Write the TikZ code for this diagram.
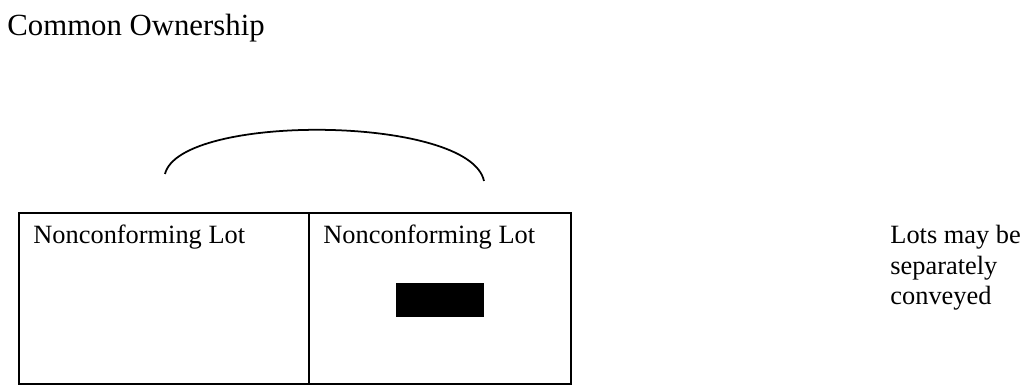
\documentclass[tikz,border=0pt]{standalone}
\usepackage{fontspec}
\setmainfont{Liberation Serif}
\usepackage{tikz}

\tikzset{
  lotline/.style={line width=1.1pt},
  lottext/.style={anchor=base west,inner sep=0pt,font=\fontsize{12}{13.8}\selectfont},
}

\begin{document}
\begin{tikzpicture}[x=0.455pt,y=0.455pt,yscale=-1]
\useasboundingbox (0,0) rectangle (1029,392);

% Text Node
\node (title) [anchor=base west,inner sep=0pt,font=\fontsize{14}{16}\selectfont] at (7,36) {Common Ownership};

%Shape: Rectangle [left lot]
\draw [lotline] (19,213) rectangle (309,384);
%Shape: Rectangle [right lot]
\draw [lotline] (309,213) rectangle (571,384);
%Shape: Rectangle [filled]
\fill (396,283) rectangle (484,317);

% Text Node
\node (lotA) [lottext] at (33,244) {Nonconforming Lot};
% Text Node
\node (lotB) [lottext] at (323,244) {Nonconforming Lot};
% Text Node
\node (note) [anchor=north west,inner sep=0pt,align=left,font=\fontsize{12}{13.8}\selectfont] at (890,225) {Lots may be\\separately\\conveyed};

%Curve Lines [common ownership]
\coordinate (arcA) at (165,174);
\coordinate (arcB) at (484,181);
\draw [line width=0.8pt] (arcA) .. controls (180,113) and (470,115) .. (arcB);

\end{tikzpicture}
\end{document}
